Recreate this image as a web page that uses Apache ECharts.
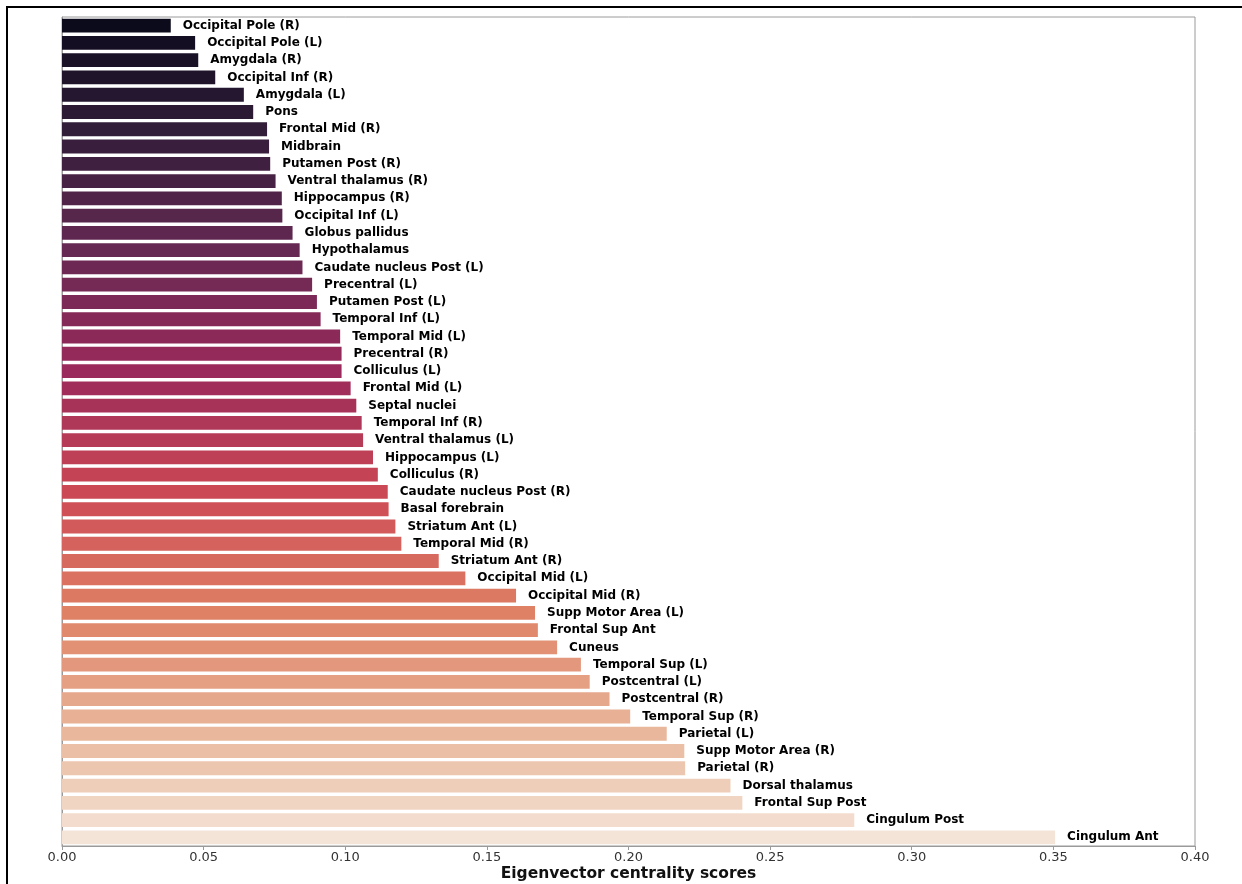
<!DOCTYPE html>
<html>
<head>
<meta charset="utf-8">
<script src="https://cdn.jsdelivr.net/npm/echarts@6/dist/echarts.min.js"></script>
<style>
  html, body { margin: 0; padding: 0; background: #fff; }
  #chart { width: 1242px; height: 884px; }
</style>
</head>
<body>
<div id="chart"></div>
<script>
// brain regions, top to bottom
const regions = [
  'Occipital Pole (R)', 'Occipital Pole (L)', 'Amygdala (R)', 'Occipital Inf (R)',
  'Amygdala (L)', 'Pons', 'Frontal Mid (R)', 'Midbrain', 'Putamen Post (R)',
  'Ventral thalamus (R)', 'Hippocampus (R)', 'Occipital Inf (L)', 'Globus pallidus',
  'Hypothalamus', 'Caudate nucleus Post (L)', 'Precentral (L)', 'Putamen Post (L)',
  'Temporal Inf (L)', 'Temporal Mid (L)', 'Precentral (R)', 'Colliculus (L)',
  'Frontal Mid (L)', 'Septal nuclei', 'Temporal Inf (R)', 'Ventral thalamus (L)',
  'Hippocampus (L)', 'Colliculus (R)', 'Caudate nucleus Post (R)', 'Basal forebrain',
  'Striatum Ant (L)', 'Temporal Mid (R)', 'Striatum Ant (R)', 'Occipital Mid (L)',
  'Occipital Mid (R)', 'Supp Motor Area (L)', 'Frontal Sup Ant', 'Cuneus',
  'Temporal Sup (L)', 'Postcentral (L)', 'Postcentral (R)', 'Temporal Sup (R)',
  'Parietal (L)', 'Supp Motor Area (R)', 'Parietal (R)', 'Dorsal thalamus',
  'Frontal Sup Post', 'Cingulum Post', 'Cingulum Ant'
];

// eigenvector centrality scores
const scores = [
  0.0384, 0.0470, 0.0481, 0.0541,
  0.0642, 0.0675, 0.0724, 0.0731, 0.0735,
  0.0754, 0.0776, 0.0778, 0.0814,
  0.0839, 0.0849, 0.0883, 0.0900,
  0.0913, 0.0982, 0.0987, 0.0987,
  0.1019, 0.1039, 0.1058, 0.1063,
  0.1098, 0.1115, 0.1150, 0.1153,
  0.1177, 0.1198, 0.1330, 0.1424,
  0.1603, 0.1670, 0.1680, 0.1748,
  0.1832, 0.1863, 0.1933, 0.2006,
  0.2135, 0.2197, 0.2200, 0.2360,
  0.2402, 0.2797, 0.3506
];

const xTicks = [0, 0.05, 0.10, 0.15, 0.20, 0.25, 0.30, 0.35, 0.40];

// rocket 色板的几个锚点
const rocketStops = [
  [0, '#03051a'], [1 / 7, '#35193e'], [2 / 7, '#701f57'], [3 / 7, '#ad1759'],
  [4 / 7, '#e13342'], [5 / 7, '#f37651'], [6 / 7, '#f6b48f'], [1, '#faebdd']
];

const hexToRgb = h => [1, 3, 5].map(i => parseInt(h.slice(i, i + 2), 16));

const rocketAt = t => {
  for (let i = 0; i < rocketStops.length - 1; i++) {
    const [t0, c0] = rocketStops[i];
    const [t1, c1] = rocketStops[i + 1];
    if (t <= t1) {
      const f = (t - t0) / (t1 - t0);
      const a = hexToRgb(c0), b = hexToRgb(c1);
      return a.map((v, k) => v + (b[k] - v) * f);
    }
  }
  return hexToRgb(rocketStops[rocketStops.length - 1][1]);
};

// seaborn 条形图默认饱和度 0.75
const desaturate = (rgb, prop) => {
  let [r, g, b] = rgb.map(v => v / 255);
  const max = Math.max(r, g, b), min = Math.min(r, g, b);
  const l = (max + min) / 2;
  if (max === min) return rgb;
  const d = max - min;
  let s = l <= 0.5 ? d / (max + min) : d / (2 - max - min);
  let h;
  if (max === r) h = ((g - b) / d) % 6;
  else if (max === g) h = (b - r) / d + 2;
  else h = (r - g) / d + 4;
  h /= 6;
  if (h < 0) h += 1;
  s *= prop;
  const q = l <= 0.5 ? l * (1 + s) : l + s - l * s;
  const p = 2 * l - q;
  const hue = (p, q, t) => {
    if (t < 0) t += 1;
    if (t > 1) t -= 1;
    if (t < 1 / 6) return p + (q - p) * 6 * t;
    if (t < 1 / 2) return q;
    if (t < 2 / 3) return p + (q - p) * (2 / 3 - t) * 6;
    return p;
  };
  return [hue(p, q, h + 1 / 3), hue(p, q, h), hue(p, q, h - 1 / 3)].map(v => Math.round(v * 255));
};

const n = regions.length;
const colors = regions.map((_, i) => {
  const c = desaturate(rocketAt((i + 1) / (n + 1)), 0.75);
  return `rgb(${c[0]},${c[1]},${c[2]})`;
});

const chart = echarts.init(document.getElementById('chart'));

const option = {
  animation: false,
  backgroundColor: '#fff',
  textStyle: { fontFamily: 'DejaVu Sans' },
  grid: {
    left: 62,
    right: 47,
    top: 17,
    bottom: 38,
    outerBoundsMode: 'none',
    containLabel: false,
    show: true,
    borderColor: '#9a9a9a',
    borderWidth: 1
  },
  xAxis: {
    type: 'value',
    min: 0,
    max: 0.4,
    interval: 0.05,
    name: 'Eigenvector centrality scores',
    nameLocation: 'middle',
    nameGap: 20,
    nameMoveOverlap: false,
    nameTextStyle: {
      fontSize: 15.5,
      fontWeight: 'bold',
      color: '#111',
      fontFamily: 'DejaVu Sans'
    },
    axisLine: { show: true, lineStyle: { color: '#9a9a9a', width: 1 } },
    axisTick: { show: true, length: 4, lineStyle: { color: '#9a9a9a' } },
    axisLabel: {
      fontSize: 13,
      color: '#333',
      margin: 5,
      formatter: v => {
        const hit = xTicks.find(t => Math.abs(t - v) < 1e-9);
        return hit === undefined ? '' : hit.toFixed(2);
      }
    },
    splitLine: { show: false }
  },
  yAxis: {
    type: 'category',
    inverse: true,
    data: regions,
    axisLine: { show: true, lineStyle: { color: '#9a9a9a', width: 1 } },
    axisTick: { show: false },
    axisLabel: { show: false }
  },
  graphic: [
    // 外框的上边和左边
    { type: 'line', shape: { x1: 6, y1: 7, x2: 1242, y2: 7 }, style: { stroke: '#000', lineWidth: 2 } },
    { type: 'line', shape: { x1: 7, y1: 6, x2: 7, y2: 884 }, style: { stroke: '#000', lineWidth: 2 } }
  ],
  series: [
    {
      type: 'bar',
      data: scores.map((v, i) => ({ value: v, itemStyle: { color: colors[i] } })),
      barCategoryGap: '20%',
      label: {
        show: true,
        position: 'right',
        distance: 12,
        formatter: p => p.name,
        fontSize: 12,
        fontWeight: 'bold',
        color: '#000',
        fontFamily: 'DejaVu Sans'
      }
    }
  ]
};

chart.setOption(option);
</script>
</body>
</html>
